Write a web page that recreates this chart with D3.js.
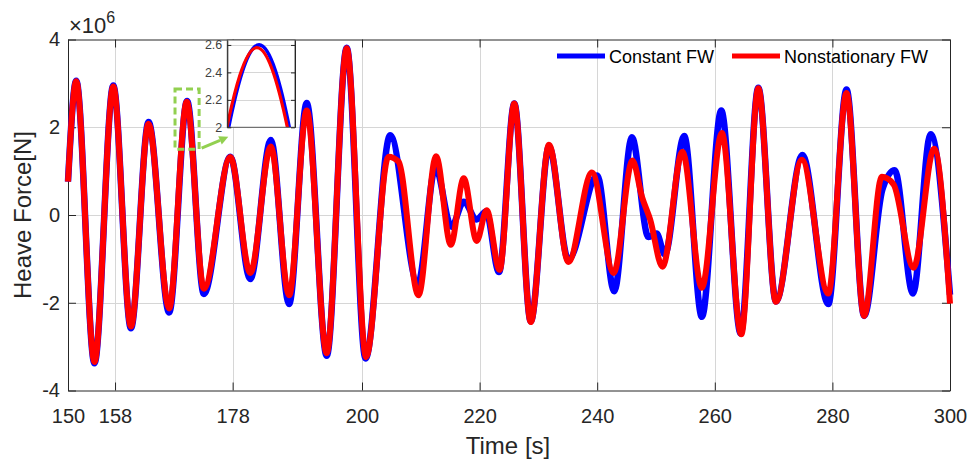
<!DOCTYPE html>
<html><head><meta charset="utf-8">
<script src="https://cdn.jsdelivr.net/npm/d3@7"></script>
<style>
body{margin:0;background:#fff;}
svg{display:block;font-family:"Liberation Sans",Arial,Helvetica,sans-serif;}
</style>
</head><body>
<svg id="chart" width="969" height="466"></svg>
<script>
// ---------------- data (force in units of 1e6 N, time in s) ----------------
const timeConstant = [150.0,151.4,154.5,157.7,160.7,163.7,167.2,170.25,173.1,177.6,181.0,184.5,187.6,190.6,194.0,197.4,200.6,204.8,209.5,212.5,215.2,217.3,219.5,221.1,223.3,225.9,228.7,231.8,235.1,240.0,242.9,245.9,248.7,250.1,251.5,254.8,257.8,261.1,264.4,267.4,270.4,274.9,279.3,282.4,285.4,288.5,290.6,293.7,296.7,300.0];
const forceConstant = [0.76,3.06,-3.38,2.95,-2.58,2.12,-2.22,2.60,-1.80,1.33,-1.46,1.71,-2.03,2.55,-3.21,3.81,-3.27,1.82,-1.57,1.08,-0.27,0.30,-0.10,0.08,-1.30,2.54,-2.42,1.56,-1.02,0.90,-1.74,1.77,-0.50,-0.42,-0.90,1.80,-2.32,2.38,-2.70,2.90,-1.97,1.37,-2.03,2.86,-2.30,0.58,1.02,-1.79,1.84,-1.82];
const timeNonstationary = [150.0,151.4,154.5,157.7,160.7,163.7,167.2,170.2,173.1,177.6,181.0,184.5,187.6,190.6,194.0,197.4,200.7,204.5,206.2,209.6,212.6,215.1,217.3,219.5,221.2,223.4,225.9,228.7,231.8,235.1,239.1,242.8,246.0,247.6,249.0,251.1,254.5,257.8,261.2,264.5,267.4,270.4,274.8,279.3,282.4,285.4,288.4,290.4,293.8,297.3,300.0];
const forceNonstationary = [0.76,3.05,-3.35,2.93,-2.54,2.08,-2.13,2.58,-1.68,1.32,-1.32,1.56,-1.83,2.38,-3.15,3.80,-3.24,1.33,1.22,-1.83,1.34,-0.68,0.84,-0.59,0.11,-1.25,2.54,-2.44,1.60,-1.07,0.97,-1.32,1.24,0.42,-0.10,-1.18,1.44,-1.66,1.87,-2.72,2.89,-1.98,1.26,-1.79,2.78,-2.30,0.87,0.70,-1.20,1.51,-2.02];

const seriesNames = ["Constant FW","Nonstationary FW"];
const xTickValues = [150,158,178,200,220,240,260,280,300];
const yTickValues = [-4,-2,0,2,4];
const timeDomain = [150,300];
const forceDomain = [-4,4];
const insetTimeDomain = [169.55,171.04];
const insetForceDomain = [2,2.636];
const insetYTickValues = [2,2.2,2.4,2.6];
const zoomBoxTime = [168.2,172.3];
const zoomBoxForce = [1.5,2.87];

// ---------------- styles / layout ----------------
const colors = ["#0000ff","#ff0000"];
const widths = [6.5,6];
const insetWidths = [3.8,3.2];
const L=68, R=950, T=39.5, B=390.5;
const IL=227.3, IR=295, IT=40, IB=127.3;
const axisColor="#262626", gridColor="#d6d6d6", green="#92d050";

const svg = d3.select("#chart");
const x = d3.scaleLinear().domain(timeDomain).range([L,R]);
const y = d3.scaleLinear().domain(forceDomain).range([B,T]);

const seriesData = [d3.zip(timeConstant,forceConstant), d3.zip(timeNonstationary,forceNonstationary)];

// grid
const grid = svg.append("g");
grid.selectAll(".gx").data(xTickValues.filter(v=>v>timeDomain[0]&&v<timeDomain[1])).join("line")
  .attr("x1",d=>Math.round(x(d))+0.5).attr("x2",d=>Math.round(x(d))+0.5).attr("y1",T).attr("y2",B)
  .attr("stroke",gridColor).attr("stroke-width",1);
grid.selectAll(".gy").data(yTickValues.filter(v=>v>forceDomain[0]&&v<forceDomain[1])).join("line")
  .attr("y1",d=>Math.round(y(d))+0.5).attr("y2",d=>Math.round(y(d))+0.5).attr("x1",L).attr("x2",R)
  .attr("stroke",gridColor).attr("stroke-width",1);

// axes
function styleAxis(g, size){
  g.attr("font-family",null).attr("font-size",null);
  g.select(".domain").attr("stroke",axisColor);
  g.selectAll(".tick line").attr("stroke",axisColor);
  g.selectAll(".tick text").attr("fill",axisColor).style("font-size",size+"px");
}
const fmt = d=>String(d);
svg.append("g").attr("transform",`translate(0,${B})`)
  .call(d3.axisBottom(x).tickValues(xTickValues).tickFormat(fmt).tickSizeInner(-8).tickSizeOuter(0).tickPadding(18))
  .call(g=>styleAxis(g,20));
svg.append("g").attr("transform",`translate(0,${T})`)
  .call(d3.axisTop(x).tickValues(xTickValues).tickFormat("").tickSizeInner(-8).tickSizeOuter(0))
  .call(g=>styleAxis(g,20));
svg.append("g").attr("transform",`translate(${L},0)`)
  .call(d3.axisLeft(y).tickValues(yTickValues).tickFormat(fmt).tickSizeInner(-8).tickSizeOuter(0).tickPadding(8))
  .call(g=>styleAxis(g,20));
svg.append("g").attr("transform",`translate(${R},0)`)
  .call(d3.axisRight(y).tickValues(yTickValues).tickFormat("").tickSizeInner(-8).tickSizeOuter(0))
  .call(g=>styleAxis(g,20));

// series
const line = d3.line().x(d=>x(d[0])).y(d=>y(d[1])).curve(d3.curveMonotoneX);
seriesData.forEach((s,i)=>{
  svg.append("path").datum(s).attr("d",line).attr("fill","none")
    .attr("stroke",colors[i]).attr("stroke-width",widths[i]).attr("stroke-linejoin","round");
});

// exponent label
const ex = svg.append("text").attr("x",69).attr("y",33).attr("fill",axisColor).style("font-size","22px");
ex.append("tspan").text("\u00d710");
ex.append("tspan").attr("dy",-10).style("font-size","16px").text("6");

// axis titles
svg.append("text").attr("x",508).attr("y",454).attr("text-anchor","middle").attr("fill",axisColor)
  .style("font-size","24px").text("Time [s]");
svg.append("text").attr("transform","translate(31,215) rotate(-90)").attr("text-anchor","middle").attr("fill",axisColor)
  .style("font-size","24px").text("Heave Force[N]");

// legend
const legX = [557,732];
seriesNames.forEach((n,i)=>{
  svg.append("line").attr("x1",legX[i]).attr("x2",legX[i]+48).attr("y1",56).attr("y2",56)
    .attr("stroke",colors[i]).attr("stroke-width",5);
  svg.append("text").attr("x",legX[i]+52).attr("y",62.5).attr("fill","#000").style("font-size","18px").text(n);
});

// zoom box
svg.append("rect").attr("x",x(zoomBoxTime[0])).attr("y",y(zoomBoxForce[1]))
  .attr("width",x(zoomBoxTime[1])-x(zoomBoxTime[0])).attr("height",y(zoomBoxForce[0])-y(zoomBoxForce[1]))
  .attr("fill","none").attr("stroke",green).attr("stroke-width",3).attr("stroke-dasharray","7,4");

// arrow
const ax0 = x(zoomBoxTime[1])+2.5, ay0 = y(zoomBoxForce[0])-1, ax1 = IL+1, ay1 = IB+9.5;
const ang = Math.atan2(ay1-ay0, ax1-ax0);
const hl = 9, hw = 4.5;
const bx = ax1 - hl*Math.cos(ang), by = ay1 - hl*Math.sin(ang);
svg.append("line").attr("x1",ax0).attr("y1",ay0).attr("x2",bx).attr("y2",by)
  .attr("stroke",green).attr("stroke-width",3);
svg.append("path").attr("d",`M${ax1},${ay1}L${bx - hw*Math.sin(ang)},${by + hw*Math.cos(ang)}L${bx + hw*Math.sin(ang)},${by - hw*Math.cos(ang)}Z`)
  .attr("fill",green);

// inset
const xi = d3.scaleLinear().domain(insetTimeDomain).range([IL,IR]);
const yi = d3.scaleLinear().domain(insetForceDomain).range([IB,IT]);
const inset = svg.append("g");
inset.append("rect").attr("x",IL).attr("y",IT).attr("width",IR-IL).attr("height",IB-IT).attr("fill","#fff");
inset.selectAll(".ig").data(insetYTickValues.filter(v=>v>insetForceDomain[0])).join("line")
  .attr("x1",IL).attr("x2",IR).attr("y1",d=>Math.round(yi(d))+0.5).attr("y2",d=>Math.round(yi(d))+0.5)
  .attr("stroke",gridColor);
svg.append("defs").append("clipPath").attr("id","insetClip").append("rect")
  .attr("x",IL).attr("y",IT).attr("width",IR-IL).attr("height",IB-IT);
const iline = d3.line().x(d=>xi(d[0])).y(d=>yi(d[1])).curve(d3.curveMonotoneX);
seriesData.forEach((s,i)=>{
  inset.append("path").datum(s).attr("d",iline).attr("fill","none").attr("clip-path","url(#insetClip)")
    .attr("stroke",colors[i]).attr("stroke-width",insetWidths[i]);
});
inset.append("rect").attr("x",IL).attr("y",IT).attr("width",IR-IL).attr("height",IB-IT)
  .attr("fill","none").attr("stroke","#555").attr("stroke-width",1);
inset.append("g").attr("transform",`translate(${IL},0)`)
  .call(d3.axisLeft(yi).tickValues(insetYTickValues).tickFormat(fmt).tickSizeInner(-4).tickSizeOuter(0).tickPadding(5))
  .call(g=>{styleAxis(g,12.5); g.selectAll(".tick text").attr("fill","#404040");});
inset.append("g").attr("transform",`translate(${IR},0)`)
  .call(d3.axisRight(yi).tickValues(insetYTickValues).tickFormat("").tickSizeInner(-4).tickSizeOuter(0))
  .call(g=>styleAxis(g,12.5));
</script>
</body></html>
